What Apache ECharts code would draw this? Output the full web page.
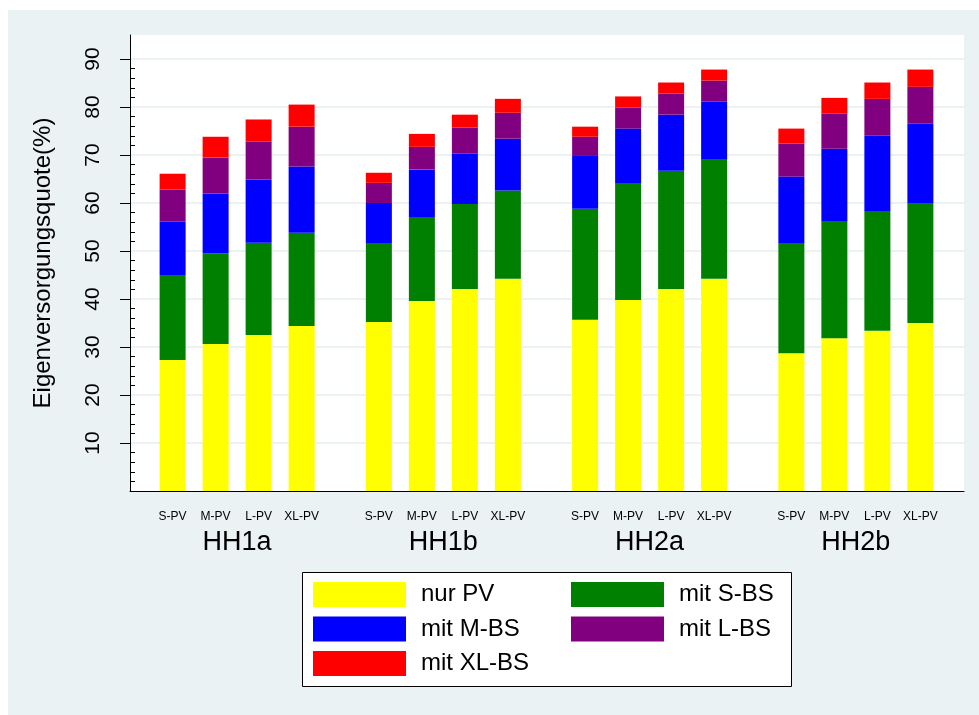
<!DOCTYPE html>
<html>
<head>
<meta charset="utf-8">
<script src="https://cdn.jsdelivr.net/npm/echarts@6/dist/echarts.min.js"></script>
<style>
  html, body { margin: 0; padding: 0; background: #ffffff; }
  #c { position: absolute; left: 8px; top: 10px; width: 971px; height: 705px; background: #EAF2F3; }
</style>
</head>
<body>
<div id="c"></div>
<script>
// ---- data (cumulative Eigenversorgungsquote in %, order: HH1a S/M/L/XL, HH1b ..., HH2a ..., HH2b ...)
const categories = ['HH1a', 'HH1b', 'HH2a', 'HH2b'];
const pvSizes = ['S-PV', 'M-PV', 'L-PV', 'XL-PV'];
const storageNames = ['nur PV', 'mit S-BS', 'mit M-BS', 'mit L-BS', 'mit XL-BS'];
const nurPV   = [27.3, 30.6, 32.5, 34.4,  35.2, 39.6, 42.1, 44.2,  35.7, 39.8, 42.1, 44.2,  28.7, 31.8, 33.4, 35.0];
const mitSBS  = [45.0, 49.5, 51.7, 53.8,  51.5, 57.1, 59.8, 62.6,  58.8, 64.0, 66.7, 69.0,  51.5, 56.1, 58.2, 60.0];
const mitMBS  = [56.1, 62.0, 64.9, 67.6,  60.0, 67.0, 70.3, 73.4,  69.8, 75.5, 78.4, 81.1,  65.5, 71.3, 74.0, 76.5];
const mitLBS  = [62.8, 69.5, 72.8, 75.9,  64.2, 71.7, 75.7, 78.8,  73.8, 79.9, 82.8, 85.5,  72.4, 78.6, 81.7, 84.2];
const mitXLBS = [66.1, 73.8, 77.4, 80.5,  66.3, 74.4, 78.4, 81.7,  75.9, 82.2, 85.1, 87.8,  75.5, 81.9, 85.1, 87.8];
const yMajorTicks = [10, 20, 30, 40, 50, 60, 70, 80, 90];
const yMinorTicks = [2, 4, 6, 8, 12, 14, 16, 18, 22, 24, 26, 28, 32, 34, 36, 38, 42, 44, 46, 48,
                     52, 54, 56, 58, 62, 64, 66, 68, 72, 74, 76, 78, 82, 84, 86, 88];
const yTitle = 'Eigenversorgungsquote(%)';
const legendColumn1 = ['nur PV', 'mit M-BS', 'mit XL-BS'];
const legendColumn2 = ['mit S-BS', 'mit L-BS'];

// ---- styles
const colors = ['#FFFF00', '#008000', '#0000FF', '#800080', '#FF0000'];
const FONT = '"Liberation Sans", Arial, Helvetica, sans-serif';

const levels = [nurPV, mitSBS, mitMBS, mitLBS, mitXLBS];
const series = [];
pvSizes.forEach((pv, p) => {
  levels.forEach((lvl, s) => {
    const data = categories.map((c, g) => {
      const i = g * pvSizes.length + p;
      const prev = s > 0 ? levels[s - 1][i] : 0;
      return +(lvl[i] - prev).toFixed(2);
    });
    const ser = {
      type: 'bar',
      name: storageNames[s],
      stack: pv,
      xAxisIndex: 1,
      yAxisIndex: 2,
      barWidth: 26,
      barGap: '65.4%',
      itemStyle: { color: colors[s] },
      emphasis: { disabled: true },
      data: data
    };
    if (s === 0) {
      ser.label = {
        show: true, position: 'bottom', distance: 20, formatter: pv,
        fontFamily: FONT, fontSize: 12, color: '#000'
      };
    }
    series.push(ser);
  });
});

const legendCommon = {
  z: 5,
  orient: 'vertical',
  top: 572,
  padding: 0,
  itemWidth: 93, itemHeight: 25, itemGap: 9.5,
  icon: 'rect',
  textStyle: { fontFamily: FONT, fontSize: 24, color: '#000', padding: [0, 0, 0, 10] },
  selectedMode: false
};

const chart = echarts.init(document.getElementById('c'), null, { renderer: 'canvas' });
chart.setOption({
  animation: false,
  backgroundColor: '#EAF2F3',
  textStyle: { fontFamily: FONT },
  graphic: [{
    type: 'rect', z: 0,
    shape: { x: 294.5, y: 562.5, width: 489, height: 114 },
    style: { fill: '#ffffff', stroke: '#000000', lineWidth: 1 }
  }],
  legend: [
    Object.assign({}, legendCommon, { left: 305, data: legendColumn1 }),
    Object.assign({}, legendCommon, { left: 563, data: legendColumn2 })
  ],
  grid: [
    { left: 122, top: 25, width: 834, height: 456, show: true, backgroundColor: '#ffffff', borderWidth: 0 },
    { left: 126, top: 25, width: 825, height: 456 }
  ],
  xAxis: [
    { type: 'value', gridIndex: 0, min: 0, max: 1, z: 10,
      axisLine: { show: true, onZero: false, lineStyle: { color: '#000', width: 1 } },
      axisTick: { show: false }, axisLabel: { show: false }, splitLine: { show: false } },
    { type: 'category', gridIndex: 1, data: categories,
      axisLine: { show: false }, axisTick: { show: false },
      axisLabel: { fontFamily: FONT, fontSize: 27, color: '#000', margin: 38 } }
  ],
  yAxis: [
    { type: 'value', gridIndex: 0, min: 0, max: 95,
      axisLine: { show: true, onZero: false, lineStyle: { color: '#000', width: 1 } },
      axisTick: { show: true, length: 10, customValues: yMajorTicks, lineStyle: { color: '#000' } },
      axisLabel: { customValues: yMajorTicks, rotate: 90, margin: 26, fontFamily: FONT, fontSize: 21, color: '#000' },
      splitLine: { show: true, lineStyle: { color: '#EAF2F3', width: 2 } },
      name: yTitle, nameLocation: 'middle', nameGap: 75,
      nameTextStyle: { fontFamily: FONT, fontSize: 24, color: '#000' } },
    { type: 'value', gridIndex: 0, min: 0, max: 95,
      axisLine: { show: false },
      axisTick: { show: true, length: 5, customValues: yMinorTicks, lineStyle: { color: '#000' } },
      axisLabel: { show: false }, splitLine: { show: false } },
    { type: 'value', gridIndex: 1, min: 0, max: 95, show: false, splitLine: { show: false } }
  ],
  series: series
});
</script>
</body>
</html>
